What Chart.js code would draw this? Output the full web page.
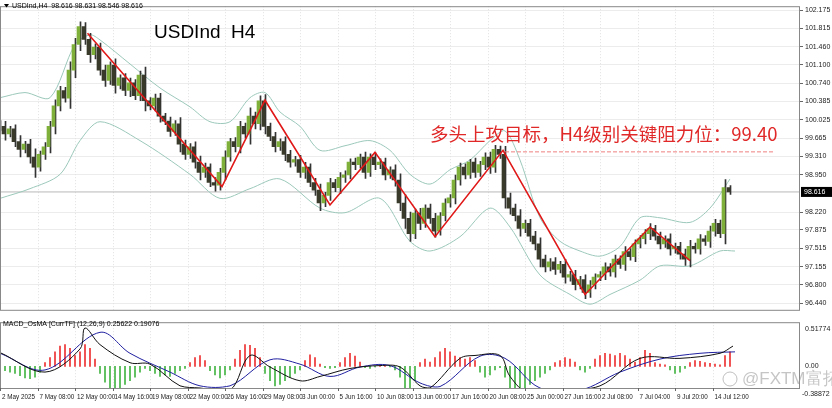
<!DOCTYPE html>
<html><head><meta charset="utf-8">
<script src="https://cdn.jsdelivr.net/npm/chart.js@4.4.1/dist/chart.umd.min.js"></script>
<style>
html,body{margin:0;padding:0;background:#fff;width:832px;height:408px;overflow:hidden}
#c1{position:absolute;left:0;top:0}
#c2{position:absolute;left:0;top:316px}
</style></head><body>
<canvas id="c1" width="832" height="316"></canvas>
<canvas id="c2" width="832" height="92"></canvas>
<script>
// ---- data (H4 bars, index 0 = 2 May 2025) ----
const closes = [
99.9,99.75,99.85,99.6,99.45,99.55,99.3,99.1,99.35,99.5,
99.9,100.3,100.6,100.45,101.0,101.5,101.85,101.6,101.3,101.45,
101.0,100.8,101.1,100.7,100.85,100.6,100.75,100.5,100.9,100.4,
100.3,100.45,100.1,100.0,99.8,99.95,99.55,99.35,99.5,99.2,
99.0,99.1,98.8,98.75,99.0,99.3,99.6,99.5,99.9,99.75,
100.1,99.95,100.4,99.9,99.7,99.5,99.6,99.35,99.2,99.25,
99.0,99.1,98.8,98.65,98.4,98.55,98.8,98.7,98.9,98.95,
99.2,99.15,99.3,99.0,99.3,99.15,99.2,98.95,99.05,98.85,
98.4,98.1,97.8,98.2,98.0,98.3,98.1,97.85,98.15,98.4,
98.5,98.85,99.1,98.95,99.2,99.0,99.15,99.3,99.1,99.45,
99.35,98.5,98.3,98.15,97.9,98.0,97.75,97.6,97.3,97.15,
97.25,97.1,97.2,96.95,97.0,96.8,96.9,96.65,96.8,96.95,
97.0,97.15,97.05,97.3,97.2,97.45,97.35,97.6,97.7,97.8,
97.9,97.75,97.6,97.7,97.5,97.55,97.4,97.3,97.55,97.5,
97.7,97.65,97.85,98.0,97.8,98.7,98.616];
const firstOpen = 99.95;
const wick = [
.08,.12,.06,.1,.15,.07,.12,.2,.08,.1,.12,.15,.1,.08,.2,.15,.12,.1,.15,.08,
.1,.12,.08,.15,.07,.1,.12,.08,.1,.2,.08,.1,.12,.07,.1,.08,.15,.1,.08,.12,
.15,.1,.08,.12,.1,.15,.08,.1,.12,.08,.2,.1,.12,.15,.08,.1,.07,.12,.1,.08,
.1,.12,.08,.1,.15,.07,.1,.08,.12,.1,.08,.1,.07,.12,.08,.1,.08,.1,.07,.12,
.15,.2,.15,.1,.12,.08,.1,.12,.08,.1,.08,.12,.1,.08,.07,.1,.08,.1,.12,.1,
.08,.2,.12,.1,.15,.08,.1,.12,.15,.1,.08,.1,.07,.12,.08,.1,.08,.12,.1,.08,
.07,.1,.08,.1,.08,.12,.07,.1,.08,.1,.12,.08,.1,.07,.12,.08,.1,.12,.15,.08,
.1,.08,.12,.1,.08,.2,.05];
const bbUpper = [[0,100.46],[5,100.56],[10,100.46],[15,101.5],[18,101.69],[20,101.59],[26,101.12],[32,100.65],[38,100.28],[42,99.99],[46,99.99],[50,100.46],[53,100.56],[56,100.18],[60,99.9],[64,99.43],[69,99.52],[74,99.62],[78,99.43],[82,98.96],[86,98.77],[90,99.05],[94,99.24],[98,99.62],[101,99.81],[104,99.24],[108,98.11],[112,97.65],[116,97.46],[120,97.36],[124,97.55],[128,98.11],[132,98.11],[138,98.02],[142,98.3],[146,98.87]];
const bbLower = [[0,98.49],[6,98.68],[12,98.96],[16,99.62],[20,99.99],[28,99.62],[38,98.96],[44,98.49],[50,98.68],[56,98.87],[64,98.3],[69,98.21],[76,98.49],[82,97.65],[86,97.46],[92,97.74],[98,98.3],[102,97.93],[108,96.99],[114,96.61],[118,96.42],[122,96.61],[128,96.89],[132,97.17],[138,97.17],[144,97.46],[147,97.46]];
const zigzag = [[17.5,101.72],[44.4,98.72],[53,100.41],[66,98.36],[75,99.39],[87,97.74],[100.6,99.43],[117,96.61],[130,97.93],[138,97.27]];
const target = [[101,99.40],[155,99.40]];
const lastPrice = 98.616;
const priceTicks = [102.175,101.815,101.460,101.100,100.740,100.385,100.025,99.665,99.310,98.950,98.220,97.875,97.515,97.155,96.800,96.440];
const histogram = [
-0.03,-0.06,-0.08,-0.1,-0.13,-0.16,-0.17,-0.15,-0.08,
0.05,0.12,0.2,0.28,0.3,0.25,0.15,
0.2,0.3,0.25,0.1,
-0.1,-0.22,-0.3,-0.33,-0.3,-0.25,-0.2,-0.15,-0.08,
-0.03,-0.06,-0.1,-0.14,-0.12,-0.14,-0.1,-0.06,-0.03,0.05,
0.12,0.15,0.08,
-0.06,-0.12,-0.16,-0.12,-0.05,
0.1,0.22,0.3,0.29,0.25,0.12,
-0.1,-0.2,-0.27,-0.25,-0.2,-0.15,-0.1,-0.05,
0.08,0.16,0.12,0.03,
-0.02,-0.03,-0.02,0.05,
0.12,0.18,0.14,0.06,
-0.02,-0.03,-0.01,0.0,0.01,-0.01,-0.05,
-0.15,-0.3,-0.33,-0.2,
0.05,0.1,0.06,
0.12,0.2,0.25,0.2,0.14,
0.12,0.1,0.12,0.08,
-0.08,-0.15,-0.12,-0.05,
-0.02,
-0.15,-0.3,-0.37,-0.35,-0.3,-0.25,-0.2,-0.15,-0.1,-0.05,
0.05,0.08,0.12,0.1,0.06,
-0.05,-0.08,-0.03,
0.1,0.15,0.18,0.17,0.15,0.18,0.15,0.1,0.06,
0.12,0.22,0.18,
0.05,0.03,0.02,
-0.05,-0.1,-0.08,-0.03,
0.05,0.08,0.07,0.05,0.04,0.03,0.02,
0.15,0.2];
const macdLine = [[0,0.19],[9,-0.08],[16,0.24],[17,0.53],[20,0.30],[26,0.05],[30,0.03],[36,-0.27],[40,-0.30],[46,-0.33],[50,0.15],[54,-0.01],[60,-0.20],[64,-0.14],[70,-0.03],[76,0.01],[80,-0.01],[84,-0.27],[86,-0.30],[92,0.11],[95,0.15],[100,0.15],[102,-0.14],[106,-0.39],[112,-0.33],[120,-0.27],[128,0.11],[136,0.11],[144,0.18],[146.6,0.28]];
const signalLine = [[0,0.18],[9,-0.05],[20,0.47],[26,0.18],[34,-0.08],[40,-0.27],[46,-0.27],[54,0.09],[60,0.03],[66,-0.14],[72,-0.01],[78,0.01],[84,-0.23],[88,-0.28],[96,0.14],[101,0.11],[108,-0.30],[116,-0.33],[124,-0.08],[132,0.10],[140,0.18],[147,0.20]];
const timeLabels = ["2 May 2025","7 May 08:00","12 May 00:00","14 May 16:00","19 May 08:00","22 May 00:00","26 May 16:00","29 May 08:00","3 Jun 00:00","5 Jun 16:00","10 Jun 08:00","13 Jun 00:00","17 Jun 16:00","20 Jun 08:00","25 Jun 00:00","27 Jun 16:00","2 Jul 08:00","7 Jul 04:00","9 Jul 20:00","14 Jul 12:00"];
const labelStep = 7.5;

// ---- derived for library ----
const opens = closes.map((c,i)=> i===0 ? firstOpen : closes[i-1]);
const bodies = closes.map((c,i)=>({x:i,y:[opens[i],c]}));
const wicks = closes.map((c,i)=>({x:i,y:[Math.min(opens[i],c)-wick[i],Math.max(opens[i],c)+wick[i]*0.8]}));
const pts = a=>a.map(p=>({x:p[0],y:p[1]}));
const UP='#7fb03a', DN='#3a3a2a';
const XMIN=0, XMAX=160;
const FONT='"DejaVu Sans", sans-serif';
const SMALL='"Liberation Sans", Arial, sans-serif';
Chart.defaults.animation=false;
Chart.defaults.font.family=SMALL;

const fitRight = s=>{s.width=32;};
const vgrid = (ch)=>{
  const {ctx,chartArea:a,scales}=ch;ctx.save();ctx.strokeStyle='#e0e0e0';ctx.setLineDash([1,2]);
  timeLabels.forEach((t,i)=>{const x=Math.round(scales.x.getPixelForValue(i*labelStep))+0.5;ctx.beginPath();ctx.moveTo(x,a.top);ctx.lineTo(x,a.bottom);ctx.stroke();});
  ctx.restore();
};
const mainOverlay = {
  id:'mainOverlay',
  beforeDatasetsDraw:vgrid,
  afterDraw(ch){
    const {ctx,chartArea:a,scales}=ch;
    ctx.save();
    ctx.strokeStyle='#888';ctx.lineWidth=1;
    ctx.strokeRect(a.left+0.5,a.top+0.5,a.right-a.left-1,a.bottom-a.top);
    ctx.fillStyle='#000';ctx.font='7px '+SMALL;ctx.textBaseline='middle';
    ctx.beginPath();ctx.moveTo(4,4);ctx.lineTo(9,4);ctx.lineTo(6.5,7.5);ctx.fill();
    ctx.fillText('USDInd,H4  98.616 98.631 98.546 98.616',12,6);
    ctx.font='19px "Liberation Sans", Arial, sans-serif';ctx.textBaseline='alphabetic';
    ctx.fillText('USDInd  H4',154,38);
    ctx.fillStyle='#e02828';ctx.font='18.5px "Noto Sans CJK SC", sans-serif';
    ctx.fillText('多头上攻目标，H4级别关键阻力位：99.40',430,141);
    const y=scales.y.getPixelForValue(lastPrice);
    ctx.fillStyle='#000';ctx.fillRect(a.right+1,y-5,31,10);
    ctx.fillStyle='#fff';ctx.font='7px '+SMALL;ctx.textBaseline='middle';
    ctx.fillText('98.616',a.right+4,y);
    ctx.restore();
  }
};
new Chart(document.getElementById('c1'),{
  type:'bar',
  data:{datasets:[
    {type:'line',data:pts(bbUpper),borderColor:'#9cc8bb',borderWidth:1,pointRadius:0,tension:0.3,order:5},
    {type:'line',data:pts(bbLower),borderColor:'#9cc8bb',borderWidth:1,pointRadius:0,tension:0.3,order:5},
    {type:'line',data:[{x:XMIN,y:lastPrice},{x:XMAX,y:lastPrice}],borderColor:'#b8b8b8',borderWidth:1,pointRadius:0,order:6},
    {data:wicks,barThickness:1,backgroundColor:'#333',order:3},
    {data:bodies,barThickness:3,backgroundColor:closes.map((c,i)=>c>=opens[i]?UP:DN),order:2},
    {type:'line',data:pts(zigzag),borderColor:'#e01818',borderWidth:1.6,pointRadius:0,order:1},
    {type:'line',data:pts(target),borderColor:'#f08080',borderDash:[4,2],borderWidth:1,pointRadius:0,order:1}
  ]},
  options:{responsive:false,layout:{padding:0},
    plugins:{legend:{display:false},tooltip:{enabled:false}},
    scales:{
      x:{type:'linear',min:XMIN,max:XMAX,offset:false,display:false,grid:{display:false}},
      y:{position:'right',min:96.31,max:102.25,afterFit:fitRight,
         afterBuildTicks(s){s.ticks=priceTicks.map(v=>({value:v}));},
         border:{display:false},
         grid:{color:'#ececec',drawTicks:true,tickLength:3,tickColor:'#666'},
         ticks:{font:{size:7},color:'#222',padding:2,callback:v=>v.toFixed(3)}}
    }},
  plugins:[mainOverlay]
});

const macdOverlay = {
  id:'macdOverlay',
  beforeDatasetsDraw:vgrid,
  afterDraw(ch){
    const {ctx,chartArea:a,scales}=ch;ctx.save();
    ctx.strokeStyle='#888';ctx.lineWidth=1;
    ctx.strokeRect(a.left+0.5,a.top+0.5,a.right-a.left-1,a.bottom-a.top);
    ctx.fillStyle='#000';ctx.font='7px '+SMALL;ctx.textBaseline='middle';
    ctx.fillText('MACD_OsMA [CurrTF] (12,26,9) 0.25622 0.19076',3,8);
    ctx.fillStyle='#222';
    ctx.fillText('-0.38872',a.right+2,scales.y.getPixelForValue(-0.38872));
    ctx.font='6.3px '+SMALL;
    timeLabels.forEach((t,i)=>{const x=scales.x.getPixelForValue(i*labelStep);
      ctx.fillText(t,i===0?2:x+2,a.bottom+9);
      ctx.strokeStyle='#666';ctx.beginPath();ctx.moveTo(Math.round(x)+0.5,a.bottom);ctx.lineTo(Math.round(x)+0.5,a.bottom+3);ctx.stroke();});
    ctx.fillStyle='rgba(150,150,150,0.55)';ctx.font='17px "Liberation Sans", sans-serif';
    ctx.fillText('@FXTM富拓',742,63);
    ctx.beginPath();ctx.arc(730,63,7,0,Math.PI*2);ctx.strokeStyle='rgba(150,150,150,0.6)';ctx.stroke();
    ctx.restore();
  }
};
new Chart(document.getElementById('c2'),{
  type:'bar',
  data:{datasets:[
    {data:histogram.map((v,i)=>({x:i,y:v})),barThickness:1.3,backgroundColor:histogram.map(v=>v>=0?'#f05050':'#60c060'),order:3},
    {type:'line',data:pts(macdLine),borderColor:'#111',borderWidth:1,pointRadius:0,tension:0.35,order:1},
    {type:'line',data:pts(signalLine),borderColor:'#2020a0',borderWidth:1,pointRadius:0,tension:0.35,order:2}
  ]},
  options:{responsive:false,layout:{padding:0},
    plugins:{legend:{display:false},tooltip:{enabled:false}},
    scales:{
      x:{type:'linear',min:XMIN,max:XMAX,offset:false,
         afterFit(s){s.height=20;},
         border:{display:false},grid:{display:false,drawTicks:false},
         ticks:{display:false}},
      y:{position:'right',min:-0.30,max:0.61,afterFit:fitRight,
         afterBuildTicks(s){s.ticks=[{value:0.51774},{value:0}];},
         border:{display:false},grid:{display:false,drawTicks:true,tickLength:3,tickColor:'#666'},
         ticks:{font:{size:7},color:'#222',padding:2,callback:v=>v===0?'0.00':v.toFixed(5)}}
    }},
  plugins:[macdOverlay]
});
</script></body></html>
